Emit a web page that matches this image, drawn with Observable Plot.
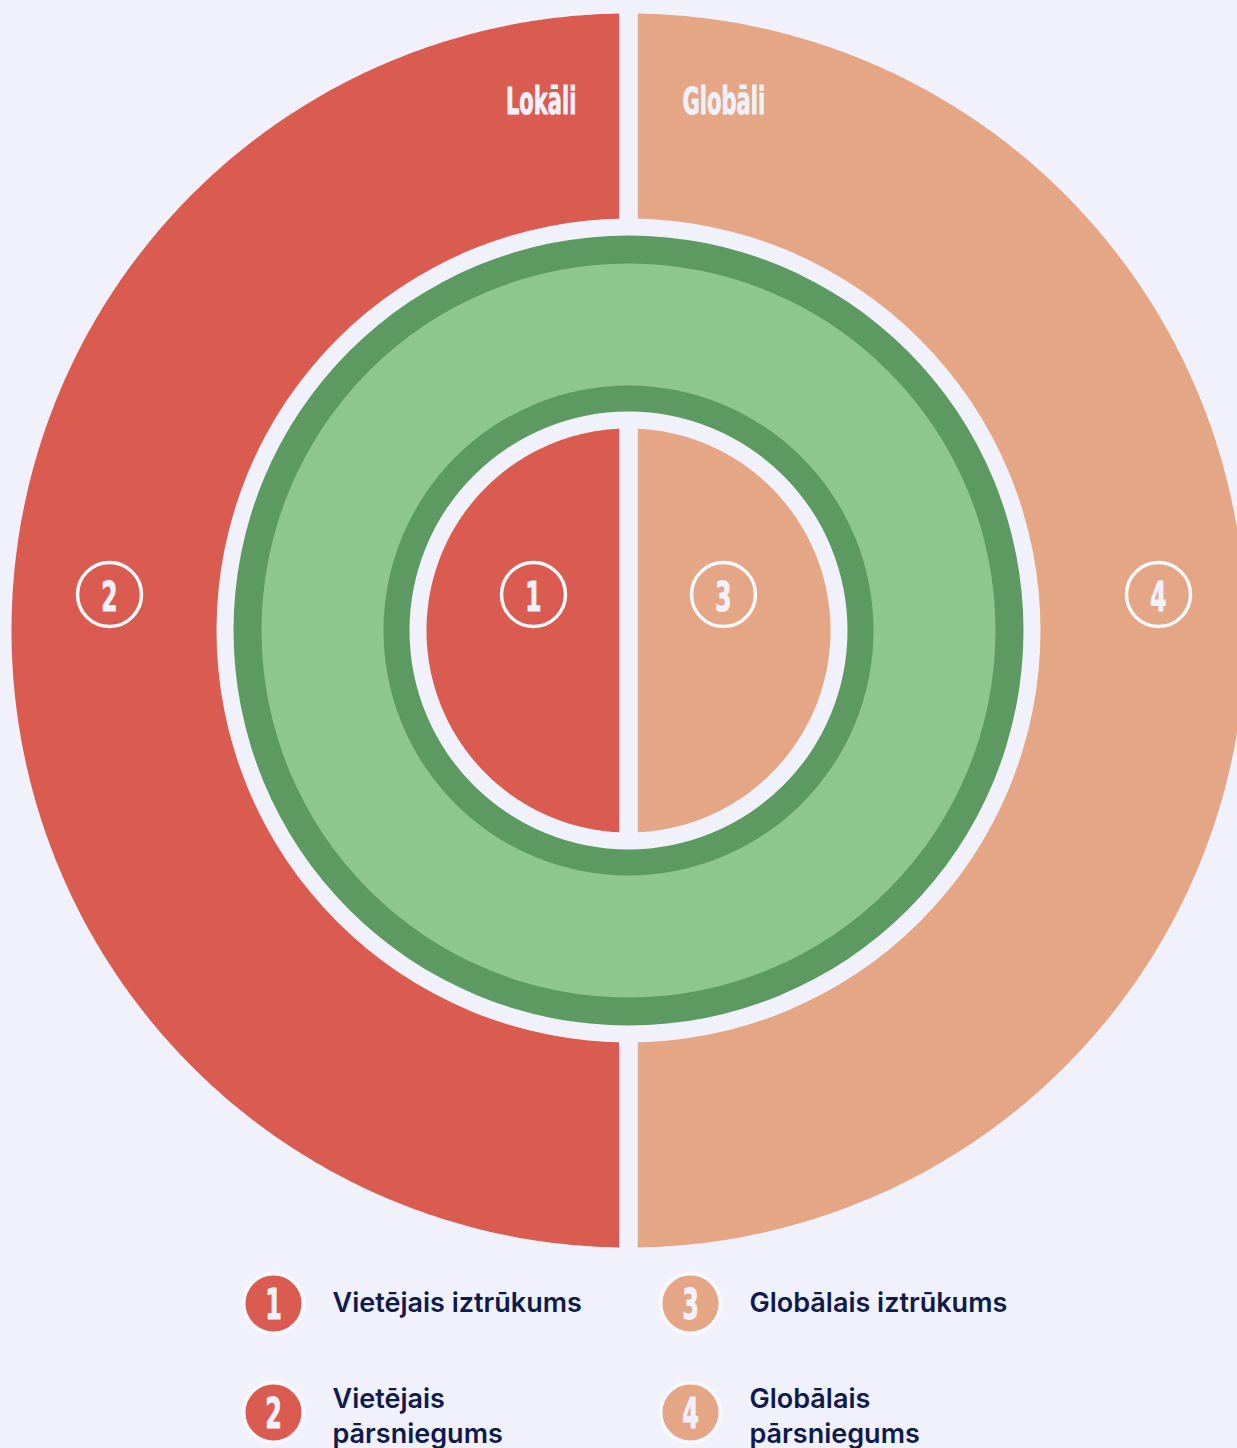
<!DOCTYPE html>
<html>
<head>
<meta charset="utf-8">
<script src="https://cdn.jsdelivr.net/npm/d3@7"></script>
<script src="https://cdn.jsdelivr.net/npm/@observablehq/plot@0.6"></script>
<style>
  html, body { margin: 0; padding: 0; background: #F1F1FC; }
  #chart svg { display: block; }
</style>
</head>
<body>
<div id="chart"></div>
<script>
// ---- data ----
const sides = ["Lokāli", "Globāli"];
const sideColors = ["#DA5B4F", "#E4A685"];
const quadrantNumbers = [2, 1, 3, 4];          // outer-left, inner-left, inner-right, outer-right
const quadrantRing = ["outer", "inner", "inner", "outer"];
const legendNumbers = [1, 2, 3, 4];
const legendLabels = ["Vietējais iztrūkums", "Vietējais\npārsniegums", "Globālais iztrūkums", "Globālais\npārsniegums"];
const legendSide = [0, 0, 1, 1];

// ---- layout ----
const W = 1237, H = 1448;
const cx = 628, cy = 630, halfGap = 9.3;
const bg = "#F1F1FC", light = "#F7F7FF";
const green = "#8DC68F", darkGreen = "#5D9A61", navy = "#0F1B4C";
const R = {outer: 617, band: 412, g1: 395, g2: 367, g3: 245, g4: 219, inner: 202};
const condensed = "'DejaVu Sans', sans-serif";

function halfDisk(r, side) {
  const pts = [];
  const n = 360;
  for (let i = 0; i <= n; i++) {
    const a = side === 0 ? Math.PI / 2 + Math.PI * i / n : -Math.PI / 2 + Math.PI * i / n;
    let x = cx + r * Math.cos(a), y = cy - r * Math.sin(a);
    x = side === 0 ? Math.min(x, cx - halfGap) : Math.max(x, cx + halfGap);
    pts.push({x, y});
  }
  return pts;
}

const marks = [];
// outer half disks
sides.forEach((s, i) => marks.push(Plot.line(halfDisk(R.outer, i), {x: "x", y: "y", fill: sideColors[i], stroke: "none"})));
// rings
[[R.band, bg], [R.g1, darkGreen], [R.g2, green], [R.g3, darkGreen], [R.g4, bg]].forEach(([r, c]) =>
  marks.push(Plot.dot([[cx, cy]], {r, fill: c, stroke: "none"})));
// inner half disks
sides.forEach((s, i) => marks.push(Plot.line(halfDisk(R.inner, i), {x: "x", y: "y", fill: sideColors[i], stroke: "none"})));

// side labels
const condStyle = {fill: bg, stroke: bg, strokeWidth: 0.9, fontWeight: "bold", fontFamily: condensed, className: "cond"};
marks.push(Plot.text([sides[0]], {x: () => cx - 52, y: () => 102, text: d => d, textAnchor: "end", fontSize: 37, ...condStyle}));
marks.push(Plot.text([sides[1]], {x: () => cx + 54, y: () => 102, text: d => d, textAnchor: "start", fontSize: 37, ...condStyle}));

// numbered circles
const qx = {outer: [109, 1158], inner: [533, 723]};
const quads = quadrantNumbers.map((n, i) => ({n, ring: quadrantRing[i], side: i < 2 ? 0 : 1}));
marks.push(Plot.dot(quads, {x: d => qx[d.ring][d.side], y: () => 594, r: 32, stroke: "#FAFAFF", strokeWidth: 3.5, fill: "none"}));
marks.push(Plot.text(quads, {x: d => qx[d.ring][d.side], y: () => 597, text: d => String(d.n), fontSize: 41, ...condStyle}));

// legend
const legend = legendNumbers.map((n, i) => ({n, label: legendLabels[i], side: legendSide[i], row: (n - 1) % 2}));
const lx = [273, 690], ly = [1303, 1412];
marks.push(Plot.dot(legend, {x: d => lx[d.side], y: d => ly[d.row], r: 30, fill: d => sideColors[d.side], stroke: light, strokeWidth: 4}));
marks.push(Plot.text(legend, {x: d => lx[d.side], y: d => ly[d.row] + 2, text: d => String(d.n), fontSize: 42, ...condStyle}));
marks.push(Plot.text(legend, {x: d => lx[d.side] + 59, y: d => d.row === 0 ? 1300 : 1414, text: "label", textAnchor: "start", lineHeight: 1.3,
  fill: navy, fontSize: 27, fontWeight: 600, fontFamily: "Inter, Lato, sans-serif"}));

const chart = Plot.plot({
  width: W, height: H,
  margin: 0,
  x: {domain: [0, W], range: [0, W], axis: null},
  y: {domain: [0, H], range: [0, H], axis: null},
  color: {type: "identity"},
  style: {background: bg, overflow: "hidden"},
  marks
});
document.getElementById("chart").append(chart);

// condense the display-style labels horizontally (the reference uses a narrow poster face)
chart.querySelectorAll("g.cond text").forEach(t => {
  const w = t.getComputedTextLength();
  t.setAttribute("textLength", (w * 0.57).toFixed(1));
  t.setAttribute("lengthAdjust", "spacingAndGlyphs");
});
</script>
</body>
</html>
